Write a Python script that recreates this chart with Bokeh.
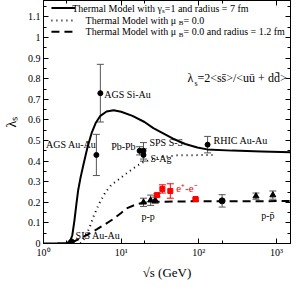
from bokeh.plotting import figure
from bokeh.models import (Range1d, FixedTicker, LinearAxis, LogAxis, CustomJSTickFormatter,
                          ColumnDataSource, Whisker, TeeHead)
from bokeh.core.properties import value
from bokeh.embed import file_html
from bokeh.resources import INLINE

FONT = "Liberation Serif"

# ---------------- data ----------------
# thermal model curves
solid_sqrts = [1.0, 1.5, 2.0, 2.2, 2.35, 2.5, 2.65, 2.8, 3.0, 3.3, 3.7, 4.2, 4.7, 5.4, 6.5, 8.0,
               10, 14, 20, 26, 46, 67, 96, 128, 270, 640, 1950]
solid_lambda = [0.0, 0.001, 0.003, 0.01, 0.04, 0.11, 0.19, 0.26, 0.32, 0.39, 0.47, 0.54, 0.585,
                0.62, 0.641, 0.647, 0.64, 0.62, 0.59, 0.56, 0.51, 0.483, 0.466, 0.457, 0.451,
                0.447, 0.442]
dotted_sqrts = [3.0, 3.3, 3.85, 4.4, 5.15, 6.3, 7.5, 9.2, 11.7, 15.6, 19.2, 30, 53, 150]
dotted_lambda = [0.0, 0.02, 0.07, 0.13, 0.19, 0.25, 0.285, 0.31, 0.34, 0.375, 0.395, 0.418,
                 0.428, 0.43]
dashed_sqrts = [2.3, 3.0, 4.0, 4.9, 6.3, 8.0, 10, 11.7, 15.6, 20, 30, 100, 1950]
dashed_lambda = [0.005, 0.025, 0.05, 0.07, 0.095, 0.12, 0.148, 0.17, 0.19, 0.199, 0.203,
                 0.205, 0.206]

# heavy-ion data
hi_names = ["SIS Au-Au", "AGS Au-Au", "AGS Si-Au", "Pb-Pb", "SPS S-S", "S-Ag", "RHIC Au-Au"]
hi_sqrts = [2.3, 4.8, 5.4, 17.3, 19.4, 19.4, 130]
hi_lambda = [0.01, 0.43, 0.73, 0.45, 0.45, 0.43, 0.48]
hi_err = [0.004, 0.10, 0.14, 0.02, 0.04, 0.03, 0.04]

# p-p and p-pbar data
pp_sqrts = [19.4, 24.0, 27.5, 200, 546, 900]
pp_lambda = [0.20, 0.21, 0.21, 0.207, 0.23, 0.235]
pp_err = [0.02, 0.025, 0.015, 0.03, 0.015, 0.02]
pp_marker = ["triangle", "triangle", "triangle", "circle", "triangle", "triangle"]

# e+e- data
ee_sqrts = [29, 34, 43, 91]
ee_lambda = [0.235, 0.265, 0.255, 0.216]
ee_err = [0.008, 0.02, 0.035, 0.005]

# ticks
x_major = [1, 10, 100, 1000]
x_minor = [2, 20, 200, 2000]
x_tick_labels = ["10\u2070", "10\u00b9", "10\u00b2", "10\u00b3"]
y_major = [0.0, 0.1, 0.2, 0.3, 0.4, 0.5, 0.6, 0.7, 0.8, 0.9, 1.0, 1.1, 1.2]
y_minor = [0.05, 0.15, 0.25, 0.35, 0.45, 0.55, 0.65, 0.75, 0.85, 0.95, 1.05, 1.15]

# legend texts and styles
leg_prefix = ["Thermal Model with \u03b3", "Thermal Model with  \u03bc", "Thermal Model with  \u03bc"]
leg_sub = ["s", "B", "B"]
leg_rest = ["=1 and radius = 7 fm", "= 0.0", "= 0.0 and radius = 1.2 fm"]
leg_dash = ["solid", "1 4", "8 5"]

# label placement (pixel offsets from the data point)
hi_dx = [4, 0, 4, -4, 6, 7, 6]
hi_dy = [-6, -10, 1, -4, -8, 4, -4]
hi_align = ["left", "right", "left", "right", "left", "left", "left"]

# annotation anchor positions (in axis units)
leg_row_y = [1.143, 1.083, 1.028]
leg_line_x = (1.265, 2.55)
leg_prefix_x = [33.5, 55.1, 55.1]
leg_rest_x = [36.5, 63.7, 63.7]
formula_x = (71.6, 87.9, 96.0)
formula_y = (0.802, 0.778)

# ---------------- figure ----------------
p = figure(width=291, height=282, x_axis_type="log",
           x_range=Range1d(1, 1520), y_range=Range1d(0, 1.18),
           toolbar_location=None, output_backend="svg",
           min_border_left=39, min_border_right=1, min_border_top=0, min_border_bottom=34)
p.grid.visible = False
p.outline_line_color = "black"
p.outline_line_width = 1
p.background_fill_color = "white"
p.border_fill_color = "white"

xt = FixedTicker(ticks=x_major, minor_ticks=x_minor)
yt = FixedTicker(ticks=y_major, minor_ticks=y_minor)
xfmt = CustomJSTickFormatter(args=dict(tvals=x_major, tlabels=x_tick_labels),
                             code="const i = tvals.indexOf(tick); return i >= 0 ? tlabels[i] : '';")
yfmt = CustomJSTickFormatter(code="return Number(tick.toFixed(2)).toString();")
blank = CustomJSTickFormatter(code="return '';")


def style(ax):
    ax.axis_line_color = "black"
    ax.major_tick_line_color = "black"
    ax.minor_tick_line_color = "black"
    ax.major_tick_in = 5
    ax.major_tick_out = 0
    ax.minor_tick_in = 3
    ax.minor_tick_out = 0
    ax.major_label_text_font = FONT
    ax.major_label_text_font_size = "10px"
    ax.major_label_text_color = "black"
    ax.axis_label_text_font = FONT
    ax.axis_label_text_font_style = "normal"
    ax.axis_label_text_color = "black"


xa = p.xaxis[0]
xa.ticker = xt
xa.formatter = xfmt
style(xa)
xa.major_label_standoff = 3
xa.axis_label = "\u221as (GeV)"
xa.axis_label_text_font_size = "13px"
xa.axis_label_standoff = 4

ya = p.yaxis[0]
ya.ticker = yt
ya.formatter = yfmt
style(ya)
ya.major_label_standoff = 3
ya.axis_label = "\u03bb\u209b"
ya.axis_label_text_font_size = "14px"
ya.axis_label_standoff = 6

ra = LinearAxis(ticker=yt, formatter=blank)
style(ra)
ra.major_label_standoff = 0
ra.major_label_text_font_size = "1px"
p.add_layout(ra, "right")

ta = LogAxis(ticker=xt, formatter=blank)
style(ta)
ta.major_label_standoff = 0
ta.major_label_text_font_size = "1px"
p.add_layout(ta, "above")

# ---------------- curves ----------------
p.line(solid_sqrts, solid_lambda, line_color="black", line_width=2)
p.line(dotted_sqrts, dotted_lambda, line_color="black", line_width=2, line_dash="1 4")
p.line(dashed_sqrts, dashed_lambda, line_color="black", line_width=2, line_dash="8 5")

# ---------------- error bars & points ----------------
def errbars(xs, ys, es, color):
    src = ColumnDataSource(dict(x=xs, lo=[y - e for y, e in zip(ys, es)],
                                up=[y + e for y, e in zip(ys, es)]))
    w = Whisker(source=src, base="x", lower="lo", upper="up", dimension="height",
                line_color=color, line_width=1,
                upper_head=TeeHead(size=7, line_color=color, line_width=1),
                lower_head=TeeHead(size=7, line_color=color, line_width=1))
    p.add_layout(w)


errbars(hi_sqrts, hi_lambda, hi_err, "#555555")
errbars(pp_sqrts, pp_lambda, pp_err, "#555555")
errbars(ee_sqrts, ee_lambda, ee_err, "red")

p.scatter(hi_sqrts, hi_lambda, marker="circle", size=5, color="black")
pp_src = ColumnDataSource(dict(x=pp_sqrts, y=pp_lambda, m=pp_marker))
p.scatter("x", "y", source=pp_src, marker="m", size=6, color="black")
p.scatter(ee_sqrts, ee_lambda, marker="square", size=5, color="red")


def txt(x, y, t, size="10px", align="left", color="black", dx=0, dy=0):
    p.text([x], [y], text=[t], x_offset=dx, y_offset=dy, text_align=align,
           text_baseline="middle", text_font=value(FONT), text_font_size=value(size),
           text_color=color)


# ---------------- point labels ----------------
hi_src = ColumnDataSource(dict(x=hi_sqrts, y=hi_lambda, t=hi_names, dx=hi_dx, dy=hi_dy, a=hi_align))
p.text("x", "y", text="t", source=hi_src, x_offset="dx", y_offset="dy", text_align="a",
       text_baseline="middle", text_font=value(FONT), text_font_size=value("10px"), text_color="black")

txt(pp_sqrts[0], pp_lambda[0], "p-p", dx=-2, dy=14)
txt(pp_sqrts[-1], pp_lambda[-1], "p-p\u0304", align="center", dx=-5, dy=20)
txt(ee_sqrts[2], ee_lambda[2], "e\u207a-e\u207b", size="11px", color="red", dx=6, dy=-3)

# ---------------- legend ----------------
for i in range(3):
    p.line(list(leg_line_x), [leg_row_y[i]] * 2, line_color="black", line_width=2,
           line_dash=leg_dash[i])
    txt(leg_prefix_x[i], leg_row_y[i], leg_prefix[i], align="right")
    txt(leg_prefix_x[i], leg_row_y[i], leg_sub[i], size="7px", dy=3)
    txt(leg_rest_x[i], leg_row_y[i], leg_rest[i])

# formula annotation
txt(formula_x[0], formula_y[0], "\u03bb", size="12px")
txt(formula_x[1], formula_y[1], "s", size="8px")
txt(formula_x[2], formula_y[0], "=2<ss\u0304>/<u\u016b + dd\u0304>", size="12px")

open("out.html", "w").write(file_html(p, INLINE))
